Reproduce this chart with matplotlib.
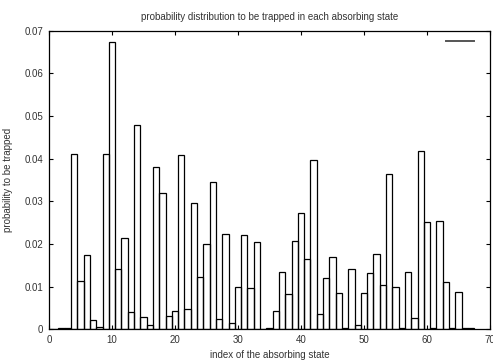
import numpy as np
import matplotlib
matplotlib.use("Agg")
import matplotlib.pyplot as plt
from matplotlib.lines import Line2D
from matplotlib.ticker import FuncFormatter

plt.rcParams["font.family"] = ["Liberation Sans", "DejaVu Sans"]

# index of absorbing state and probability to be trapped there
state_idx = list(range(68))
prob = [
    0.0001, 0.0001, 0.0004, 0.0004, 0.0410, 0.0114, 0.0174, 0.0022, 0.0006, 0.0410,
    0.0674, 0.0141, 0.0213, 0.0040, 0.0480, 0.0028, 0.0010, 0.0380, 0.0320, 0.0032,
    0.0043, 0.0408, 0.0048, 0.0295, 0.0122, 0.0199, 0.0346, 0.0024, 0.0223, 0.0014,
    0.0098, 0.0220, 0.0096, 0.0204, 0.0001, 0.0002, 0.0043, 0.0134, 0.0082, 0.0208,
    0.0272, 0.0165, 0.0398, 0.0035, 0.0121, 0.0169, 0.0086, 0.0002, 0.0141, 0.0010,
    0.0084, 0.0131, 0.0176, 0.0105, 0.0364, 0.0100, 0.0002, 0.0134, 0.0026, 0.0419,
    0.0252, 0.0003, 0.0255, 0.0111, 0.0003, 0.0088, 0.0002, 0.0002,
]
x_ticks = [0, 10, 20, 30, 40, 50, 60, 70]
y_ticks = [0, 0.01, 0.02, 0.03, 0.04, 0.05, 0.06, 0.07]

fs = 7
fig = plt.figure(figsize=(4.93, 3.60), dpi=100)
ax = fig.add_axes([0.0994, 0.0853, 0.8946, 0.8294])

ax.bar(state_idx, prob, width=1.0, facecolor="none", edgecolor="black", linewidth=0.9)

ax.set_xlim(0, 70)
ax.set_ylim(0, 0.07)
ax.set_xticks(x_ticks)
ax.set_yticks(y_ticks)
ax.yaxis.set_major_formatter(FuncFormatter(lambda v, p: "0" if v == 0 else f"{v:.2f}"))
ax.tick_params(direction="in", top=True, right=True, length=3, width=0.8,
               labelsize=fs, pad=4, colors="black", labelcolor="#333333")
for s in ax.spines.values():
    s.set_linewidth(0.9)

ax.set_title("probability distribution to be trapped in each absorbing state",
             fontsize=fs, pad=8, color="#333333")
ax.set_xlabel("index of the absorbing state", fontsize=fs, labelpad=4, color="#333333")
ax.set_ylabel("probability to be trapped", fontsize=fs, labelpad=8, color="#333333")

ax.legend(handles=[Line2D([], [], color="#555555", lw=1.4)], labels=[""],
          loc="upper right", bbox_to_anchor=(0.972, 0.995), frameon=False,
          handlelength=2.9, handletextpad=0, borderaxespad=0, fontsize=fs)

fig.savefig("out.png", dpi=100)
